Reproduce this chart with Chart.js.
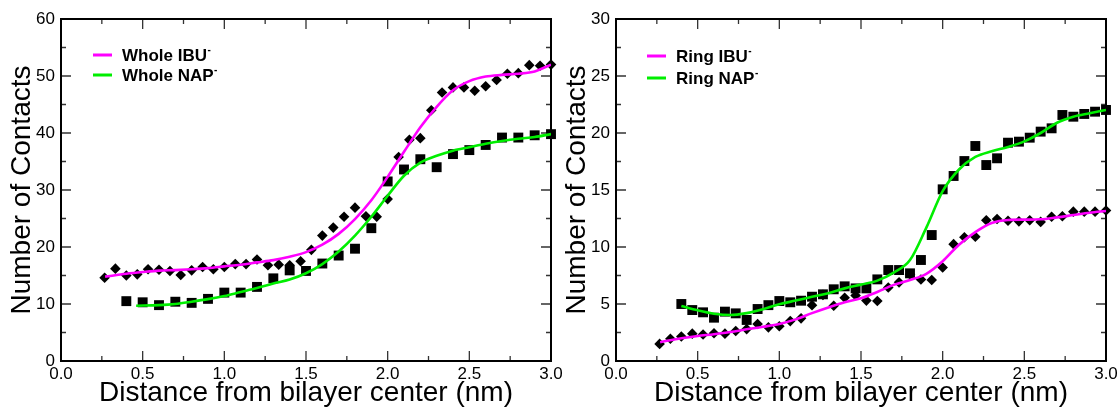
<!DOCTYPE html>
<html>
<head>
<meta charset="utf-8">
<script src="https://cdn.jsdelivr.net/npm/chart.js@4.4.1/dist/chart.umd.min.js"></script>
<style>
  html, body { margin: 0; padding: 0; background: #fff; }
  #wrap { position: relative; width: 1119px; height: 411px; overflow: hidden; }
  .panel { position: absolute; top: 0; }
  #leftPanel { left: 0; }
  #rightPanel { left: 560px; }
</style>
</head>
<body>
<div id="wrap">
  <div class="panel" id="leftPanel"><canvas id="wholeChart" width="570" height="411"></canvas></div>
  <div class="panel" id="rightPanel"><canvas id="ringChart" width="559" height="411"></canvas></div>
</div>
<script>
// sampled points, IBU every 1/15 nm
const ibuDist = [0.267, 0.333, 0.4, 0.467, 0.533, 0.6, 0.667, 0.733, 0.8, 0.867, 0.933, 1.0, 1.067, 1.133,
  1.2, 1.267, 1.333, 1.4, 1.467, 1.533, 1.6, 1.667, 1.733, 1.8, 1.867, 1.933, 2.0, 2.067, 2.133, 2.2,
  2.267, 2.333, 2.4, 2.467, 2.533, 2.6, 2.667, 2.733, 2.8, 2.867, 2.933, 3.0];
const wholeIbu = [14.6, 16.2, 15.0, 15.2, 16.1, 16.0, 15.8, 15.1, 15.9, 16.5, 16.1, 16.5, 17.0, 17.0,
  17.8, 16.8, 16.9, 16.8, 17.5, 19.5, 22.0, 23.4, 25.3, 26.9, 25.4, 25.3, 28.4, 35.8, 38.8, 39.1,
  44.0, 47.1, 48.0, 48.0, 47.4, 48.2, 49.3, 50.4, 50.5, 51.9, 51.8, 52.0];
const ringIbu = [1.5, 1.95, 2.15, 2.4, 2.33, 2.43, 2.4, 2.63, 2.8, 3.25, 2.95, 3.05, 3.5, 3.74,
  4.9, 5.8, 4.85, 5.55, 5.75, 5.3, 5.26, 6.45, 6.9, 7.6, 7.15, 7.1, 8.2, 10.25, 10.85, 10.9,
  12.35, 12.45, 12.3, 12.25, 12.35, 12.2, 12.65, 12.7, 13.1, 13.1, 13.1, 13.2];

// whole NAP every 0.1 nm
const wholeNapDist = [0.4, 0.5, 0.6, 0.7, 0.8, 0.9, 1.0, 1.1, 1.2, 1.3, 1.4, 1.5, 1.6, 1.7, 1.8, 1.9,
  2.0, 2.1, 2.2, 2.3, 2.4, 2.5, 2.6, 2.7, 2.8, 2.9, 3.0];
const wholeNap = [10.5, 10.3, 9.8, 10.4, 10.2, 10.9, 12.0, 12.0, 13.0, 14.5, 15.9, 15.8, 17.1, 18.5, 19.7, 23.3,
  31.5, 33.6, 35.4, 34.0, 36.3, 37.0, 37.9, 39.2, 39.2, 39.6, 39.8];

// ring NAP every 1/15 nm
const ringNapDist = [0.4, 0.467, 0.533, 0.6, 0.667, 0.733, 0.8, 0.867, 0.933, 1.0, 1.067, 1.133,
  1.2, 1.267, 1.333, 1.4, 1.467, 1.533, 1.6, 1.667, 1.733, 1.8, 1.867, 1.933, 2.0, 2.067, 2.133, 2.2,
  2.267, 2.333, 2.4, 2.467, 2.533, 2.6, 2.667, 2.733, 2.8, 2.867, 2.933, 3.0];
const ringNap = [5.0, 4.47, 4.27, 3.8, 4.33, 4.18, 3.6, 4.56, 4.9, 5.26, 5.15, 5.29,
  5.64, 5.85, 6.29, 6.55, 6.37, 6.37, 7.16, 7.98, 7.98, 7.69, 8.86, 11.05, 15.06, 16.23, 17.54, 18.86,
  17.19, 17.78, 19.15, 19.24, 19.59, 20.12, 20.41, 21.58, 21.43, 21.67, 21.87, 22.02];

// fitted curves
const ibuFitDist = [0.27, 0.4, 0.5, 0.6, 0.7, 0.8, 0.9, 1.0, 1.1, 1.2, 1.3, 1.4, 1.5, 1.6, 1.7, 1.8,
  1.9, 2.0, 2.1, 2.2, 2.3, 2.4, 2.5, 2.6, 2.7, 2.8, 2.9, 3.0];
const wholeIbuFit = [14.8, 15.3, 15.6, 15.85, 15.95, 16.1, 16.3, 16.6, 16.9, 17.3, 17.7, 18.3, 19.1, 20.4, 22.3, 24.9,
  28.2, 32.3, 36.7, 41.0, 44.6, 47.5, 49.1, 49.9, 50.2, 50.4, 50.8, 52.0];
const ringIbuFit = [1.65, 2.0, 2.2, 2.35, 2.55, 2.78, 3.0, 3.25, 3.65, 4.2, 4.7, 5.15, 5.5, 6.05, 6.68, 7.1,
  7.65, 8.75, 10.2, 11.3, 12.1, 12.37, 12.4, 12.43, 12.6, 12.8, 13.0, 13.16];

const wholeNapFitDist = [0.46, 0.6, 0.7, 0.8, 0.9, 1.0, 1.1, 1.2, 1.3, 1.4, 1.5, 1.6, 1.7, 1.8, 1.9,
  2.0, 2.1, 2.2, 2.3, 2.4, 2.5, 2.6, 2.7, 2.8, 2.9, 3.0];
const wholeNapFit = [9.7, 9.8, 10.0, 10.4, 10.85, 11.4, 12.1, 12.8, 13.6, 14.3, 15.4, 17.0, 19.2, 22.0, 25.3,
  29.0, 32.5, 34.8, 36.0, 36.9, 37.5, 38.1, 38.6, 39.0, 39.3, 39.8];

const ringNapFitDist = [0.4, 0.5, 0.6, 0.7, 0.8, 0.9, 1.0, 1.1, 1.2, 1.3, 1.4, 1.5, 1.6, 1.7, 1.8, 1.9,
  2.0, 2.1, 2.2, 2.3, 2.4, 2.5, 2.6, 2.7, 2.8, 2.9, 3.0];
const ringNapFit = [4.82, 4.45, 4.15, 4.03, 4.2, 4.55, 4.98, 5.3, 5.63, 5.95, 6.37, 6.7, 7.05, 7.75, 8.85, 11.7,
  14.9, 16.8, 17.9, 18.4, 18.78, 19.27, 20.0, 20.9, 21.43, 21.73, 22.02];

const FONT = '"Liberation Sans", Arial, Helvetica, sans-serif';
const MAGENTA = '#ff00ff';
const GREEN = '#00ee00';

const pts = (xs, ys) => xs.map((x, i) => ({ x: x, y: ys[i] }));

// grace-style frame with inward ticks on all four sides
const xmFrame = {
    id: 'xmFrame',
    beforeDatasetsDraw(chart, args, opts) {
        const { ctx, chartArea: a, scales: { x, y } } = chart;
        ctx.save();
        ctx.strokeStyle = '#333';
        ctx.lineWidth = 1.3;
        ctx.beginPath();
        const isMajor = (v, step) => Math.abs(v / step - Math.round(v / step)) < 1e-6;
        for (let v = x.min; v <= x.max + 1e-9; v += opts.xMinor) {
            const len = isMajor(v, opts.xMajor) ? 10 : 5;
            const px = x.getPixelForValue(v);
            ctx.moveTo(px, a.bottom); ctx.lineTo(px, a.bottom - len);
            ctx.moveTo(px, a.top); ctx.lineTo(px, a.top + len);
        }
        for (let v = y.min; v <= y.max + 1e-9; v += opts.yMinor) {
            const len = isMajor(v, opts.yMajor) ? 10 : 5;
            const py = y.getPixelForValue(v);
            ctx.moveTo(a.left, py); ctx.lineTo(a.left + len, py);
            ctx.moveTo(a.right, py); ctx.lineTo(a.right - len, py);
        }
        ctx.stroke();
        ctx.strokeStyle = '#000';
        ctx.lineWidth = 2;
        ctx.strokeRect(a.left, a.top, a.width, a.height);
        ctx.restore();
    }
};

// legend with a superscript minus after each label
const xmLegend = {
    id: 'xmLegend',
    afterDatasetsDraw(chart, args, opts) {
        const ctx = chart.ctx;
        ctx.save();
        chart.data.datasets.filter(d => d.showLine).forEach((d, i) => {
            const y = opts.top + i * opts.gap;
            ctx.strokeStyle = d.borderColor;
            ctx.lineWidth = 3;
            ctx.beginPath();
            ctx.moveTo(opts.left, y - 1);
            ctx.lineTo(opts.left + 19, y - 1);
            ctx.stroke();
            ctx.fillStyle = '#000';
            ctx.textBaseline = 'middle';
            ctx.font = 'bold 17px ' + FONT;
            ctx.fillText(d.label, opts.left + 29, y);
            const w = ctx.measureText(d.label).width;
            ctx.font = 'bold 10px ' + FONT;
            ctx.fillText('-', opts.left + 29 + w + 0.5, y - 6);
        });
        ctx.restore();
    }
};

function makeChart(id, cfg) {
    return new Chart(document.getElementById(id), {
        type: 'scatter',
        data: {
            datasets: [
                { label: cfg.ibuLabel, data: cfg.ibuFit, showLine: true, borderColor: MAGENTA, borderWidth: 2.6,
                  pointRadius: 0, cubicInterpolationMode: 'monotone', order: 0 },
                { label: cfg.napLabel, data: cfg.napFit, showLine: true, borderColor: GREEN, borderWidth: 2.6,
                  pointRadius: 0, cubicInterpolationMode: 'monotone', order: 0 },
                { label: 'ibu points', data: cfg.ibuPts, pointStyle: 'rectRot', pointRadius: 5.3,
                  backgroundColor: '#000', borderWidth: 0, clip: false, order: 1 },
                { label: 'nap points', data: cfg.napPts, pointStyle: 'rect', pointRadius: 7,
                  backgroundColor: '#000', borderWidth: 0, clip: false, order: 1 }
            ]
        },
        options: {
            responsive: false,
            animation: false,
            layout: { padding: { left: 0, right: cfg.padRight, top: 19, bottom: 0 } },
            plugins: {
                legend: { display: false },
                tooltip: { enabled: false },
                xmFrame: { xMajor: 0.5, xMinor: 0.25, yMajor: cfg.yStep, yMinor: cfg.yStep / 2 },
                xmLegend: cfg.legend
            },
            scales: {
                x: {
                    type: 'linear', min: 0, max: 3,
                    grid: { display: false, drawTicks: false },
                    border: { display: false },
                    ticks: { stepSize: 0.5, padding: 3, color: '#000', autoSkip: false, maxRotation: 0,
                             font: { family: FONT, size: 17 }, callback: v => v.toFixed(1) },
                    title: { display: true, text: 'Distance from bilayer center (nm)', color: '#000',
                             font: { family: FONT, size: 28 }, padding: { top: 0, bottom: 1 } },
                    afterFit: s => { s.height = 50; s.paddingLeft = 0; s.paddingRight = 0; }
                },
                y: {
                    type: 'linear', min: 0, max: cfg.yMax,
                    grid: { display: false, drawTicks: false },
                    border: { display: false },
                    ticks: { stepSize: cfg.yStep, padding: 6, color: '#000', font: { family: FONT, size: 17 } },
                    title: { display: true, text: 'Number of Contacts', color: '#000',
                             font: { family: FONT, size: 28 }, padding: { top: cfg.yTitlePad, bottom: 0 } },
                    afterFit: s => { s.width = cfg.yWidth; s.paddingTop = 0; s.paddingBottom = 0; }
                }
            }
        },
        plugins: [xmFrame, xmLegend]
    });
}

const wholeChart = makeChart('wholeChart', {
    ibuLabel: 'Whole IBU', napLabel: 'Whole NAP',
    ibuFit: pts(ibuFitDist, wholeIbuFit), napFit: pts(wholeNapFitDist, wholeNapFit),
    ibuPts: pts(ibuDist, wholeIbu), napPts: pts(wholeNapDist, wholeNap),
    yMax: 60, yStep: 10, yWidth: 61, yTitlePad: 5, padRight: 19,
    legend: { left: 93, top: 56, gap: 20 }
});

const ringChart = makeChart('ringChart', {
    ibuLabel: 'Ring IBU', napLabel: 'Ring NAP',
    ibuFit: pts(ibuFitDist, ringIbuFit), napFit: pts(ringNapFitDist, ringNapFit),
    ibuPts: pts(ibuDist, ringIbu), napPts: pts(ringNapDist, ringNap),
    yMax: 30, yStep: 5, yWidth: 56, yTitlePad: 0, padRight: 13,
    legend: { left: 87, top: 57, gap: 22 }
});
</script>
</body>
</html>
